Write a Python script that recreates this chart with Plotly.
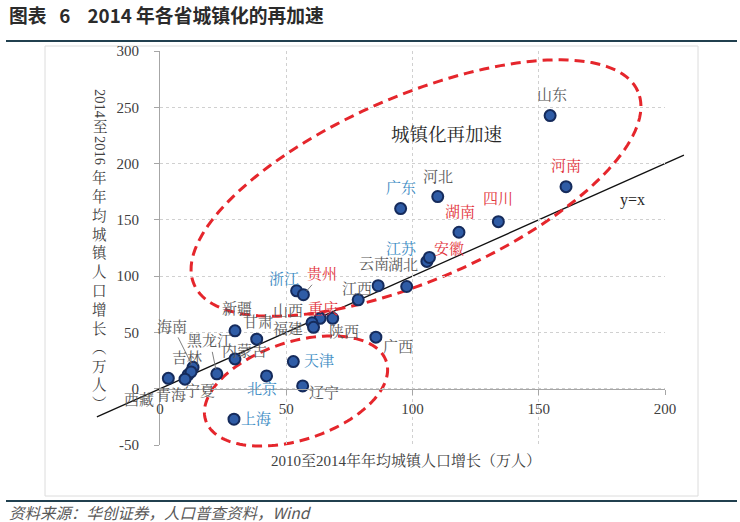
import numpy as np
import plotly.graph_objects as go

# ---------------- data ----------------
provinces = ["山东", "河南", "广东", "河北", "湖南", "四川", "江苏", "安徽", "云南", "湖北",
             "浙江", "贵州", "江西", "重庆", "陕西", "山西", "福建", "广西", "甘肃", "新疆",
             "内蒙古", "黑龙江", "海南", "吉林", "宁夏", "青海", "西藏", "北京", "天津", "辽宁", "上海"]
growth_2010_2014 = [154.5, 160.8, 95.3, 110.0, 118.4, 134.0, 105.7, 106.7, 86.4, 97.7,
                    54.1, 56.8, 78.5, 63.4, 68.4, 60.2, 60.8, 85.5, 38.3, 29.7,
                    29.7, 22.5, 13.1, 11.1, 12.3, 9.9, 3.3, 42.2, 52.8, 56.5, 29.3]
growth_2014_2016 = [242.6, 179.5, 160.0, 170.7, 139.0, 148.4, 113.1, 116.6, 91.5, 90.8,
                    87.0, 83.5, 79.0, 62.5, 62.5, 58.6, 54.5, 45.8, 44.0, 51.4,
                    26.5, 13.2, 19.0, 12.3, 14.9, 8.5, 9.2, 11.4, 24.1, 2.5, -27.1]
label_group = ["g", "r", "b", "g", "r", "r", "b", "r", "g", "g",
               "b", "r", "g", "r", "g", "g", "g", "g", "g", "g",
               "g", "g", "g", "g", "g", "g", "g", "b", "b", "g", "b"]
x_ticks = [0, 50, 100, 150, 200]
y_ticks = [-50, 0, 50, 100, 150, 200, 250, 300]
identity_line = [-25, 207.5]

title_text = "图表\u00a0\u00a0\u00a06\u00a0\u00a0\u00a0\u00a02014 年各省城镇化的再加速"
x_title = "2010至2014年年均城镇人口增长（万人）"
y_title_parts = ["2014", "至", "2016", "年年均城镇人口增长︵万人︶"]
source_text = "资料来源：华创证券，人口普查资料，Wind"
note_text = "城镇化再加速"
line_label = "y=x"

# ---------------- styles ----------------
W, H = 740, 522
L, R, T, B = 160, 75, 51, 77
PW, PH = W - L - R, H - T - B
X_RANGE = [0, 200]
Y_RANGE = [-50, 300]

COLORS = {"g": "#595959", "b": "#3d8cc4", "r": "#e2323a"}
SERIF = "Liberation Serif, Noto Serif CJK SC, Noto Sans CJK SC, serif"
CJK = "Noto Serif CJK SC, Noto Sans CJK SC, sans-serif"
RED = "#e5262c"
LABEL_SIZE = 15

# label offsets in pixels (dx, dy; dy positive = down), optional leader line
label_offsets = {
    "山东": (2, -22), "河南": (0, -22), "广东": (0, -22), "河北": (0, -21), "湖南": (1, -22),
    "四川": (0, -24), "江苏": (-25, -14), "安徽": (20, -10), "云南": (-4, -23), "湖北": (-4, -23),
    "浙江": (-13, -13), "江西": (-1, -12), "重庆": (3, -11), "陕西": (11, 12),
    "山西": (-24, -13), "福建": (-26, 0), "广西": (22, 8), "甘肃": (1, -19), "新疆": (2, -23),
    "内蒙古": (10, -9), "吉林": (-1, -18), "宁夏": (9, 18), "青海": (-14, 14), "西藏": (-29, 20),
    "北京": (-5, 12), "天津": (26, -2), "辽宁": (21, 6), "上海": (22, -2),
}
leader_offsets = {"贵州": (19, -22), "黑龙江": (-7, -34), "海南": (-21, -42)}


def d2px(x, y):
    px = L + (x - X_RANGE[0]) / (X_RANGE[1] - X_RANGE[0]) * PW
    py = T + (Y_RANGE[1] - y) / (Y_RANGE[1] - Y_RANGE[0]) * PH
    return px, py


def px2paper(px, py):
    return (px - L) / PW, (H - B - py) / PH


def ellipse_path(cpx, cpy, a, b, ang_deg, n=160):
    th = np.deg2rad(ang_deg)
    t = np.linspace(0, 2 * np.pi, n, endpoint=False)
    ex = cpx + a * np.cos(t) * np.cos(th) - b * np.sin(t) * np.sin(th)
    ey = cpy - (a * np.cos(t) * np.sin(th) + b * np.sin(t) * np.cos(th))
    pts = [px2paper(u, v) for u, v in zip(ex, ey)]
    return "M " + " L ".join(f"{u:.5f},{v:.5f}" for u, v in pts) + " Z"


fig = go.Figure()
fig.add_trace(go.Scatter(
    x=growth_2010_2014, y=growth_2014_2016, mode="markers", text=provinces,
    marker=dict(size=11, color="#2f5ca6", line=dict(width=2, color="#152b5c")),
    cliponaxis=False, hoverinfo="text+x+y",
))

shapes = []
# outer chart frame
fx0, fy0 = px2paper(45, 496)
fx1, fy1 = px2paper(698, 46)
shapes.append(dict(type="rect", xref="paper", yref="paper", x0=fx0, y0=fy0, x1=fx1, y1=fy1,
                   line=dict(color="#dcdcdc", width=1), layer="below"))
# header / footer rules
for yy in (41, 501):
    ax0, ay = px2paper(6, yy)
    ax1, _ = px2paper(737, yy)
    shapes.append(dict(type="line", xref="paper", yref="paper", x0=ax0, x1=ax1, y0=ay, y1=ay,
                       line=dict(color="#21404f", width=2), layer="below"))
# y = x line
lx0, ly0 = px2paper(*d2px(identity_line[0], identity_line[0]))
lx1, ly1 = px2paper(*d2px(identity_line[1], identity_line[1]))
shapes.append(dict(type="line", xref="paper", yref="paper", x0=lx0, y0=ly0, x1=lx1, y1=ly1,
                   line=dict(color="#111111", width=1.3), layer="below"))
# dashed ellipses (centre in pixels, semi-axes in pixels, tilt in degrees)
shapes.append(dict(type="path", xref="paper", yref="paper", path=ellipse_path(416, 188, 242, 92, 23.5),
                   line=dict(color=RED, width=3, dash="10px,6px"), layer="below"))
shapes.append(dict(type="path", xref="paper", yref="paper", path=ellipse_path(296, 391, 95, 49, 18),
                   line=dict(color=RED, width=3, dash="10px,6px"), layer="below"))

annotations = []
for name, xv, yv, grp in zip(provinces, growth_2010_2014, growth_2014_2016, label_group):
    col = COLORS[grp]
    if name in leader_offsets:
        dx, dy = leader_offsets[name]
        annotations.append(dict(x=xv, y=yv, xref="x", yref="y", text=name, showarrow=True,
                                arrowhead=0, arrowwidth=1, arrowcolor="#7f7f7f", ax=dx, ay=dy,
                                standoff=5, font=dict(family=CJK, size=LABEL_SIZE, color=col)))
    else:
        dx, dy = label_offsets[name]
        annotations.append(dict(x=xv, y=yv, xref="x", yref="y", text=name, showarrow=False,
                                xshift=dx, yshift=-dy, font=dict(family=CJK, size=LABEL_SIZE, color=col)))


def add_text(px, py, text, size, color, family=CJK, xanchor="center", angle=0, **kw):
    xp, yp = px2paper(px, py)
    annotations.append(dict(x=xp, y=yp, xref="paper", yref="paper", text=text, showarrow=False,
                            xanchor=xanchor, yanchor="middle", textangle=angle,
                            font=dict(family=family, size=size, color=color), **kw))


add_text(447, 133, note_text, 18.5, "#262626")
add_text(632, 200, line_label, 16, "#262626", family=SERIF)
add_text(406, 461, x_title, 15, "#404040", family=SERIF)
add_text(100, 104, y_title_parts[0], 14.5, "#404040", family=SERIF, angle=90)
add_text(100, 127, y_title_parts[1], 14.5, "#404040", family=SERIF)
add_text(100, 150, y_title_parts[2], 14.5, "#404040", family=SERIF, angle=90)
add_text(100, 290, "<br>".join(list(y_title_parts[3])), 14.5, "#404040", family=SERIF)
add_text(7, 14, "<b>" + title_text + "</b>", 18.8, "#2b2b2b", family="Noto Sans CJK SC", xanchor="left")
add_text(7, 512, "<i>" + source_text + "</i>", 15.5, "#595959", family="Noto Sans CJK SC", xanchor="left")

axis_common = dict(showgrid=True, gridcolor="#d0d0d0", griddash="dot", gridwidth=1,
                   showline=True, linecolor="#a6a6a6", linewidth=1, ticks="outside", ticklen=5,
                   tickcolor="#a6a6a6", zeroline=False, fixedrange=True,
                   tickfont=dict(family=SERIF, size=15, color="#404040"))

fig.update_layout(
    width=W, height=H, autosize=False,
    margin=dict(l=L, r=R, t=T, b=B, pad=0),
    paper_bgcolor="white", plot_bgcolor="rgba(0,0,0,0)",
    showlegend=False, shapes=shapes, annotations=annotations,
    xaxis=dict(range=X_RANGE, tickvals=x_ticks, ticktext=[str(v) for v in x_ticks],
               anchor="free", position=(0 - Y_RANGE[0]) / (Y_RANGE[1] - Y_RANGE[0]),
               ticklabelstandoff=1, **axis_common),
    yaxis=dict(range=Y_RANGE, tickvals=y_ticks, ticktext=[str(v) for v in y_ticks],
               ticklabelstandoff=12, **axis_common),
)

fig.write_html("out.html", config={"displayModeBar": False},
               post_script="document.body.style.margin='0';document.body.style.padding='0';"
                           "document.documentElement.style.overflow='hidden';")
